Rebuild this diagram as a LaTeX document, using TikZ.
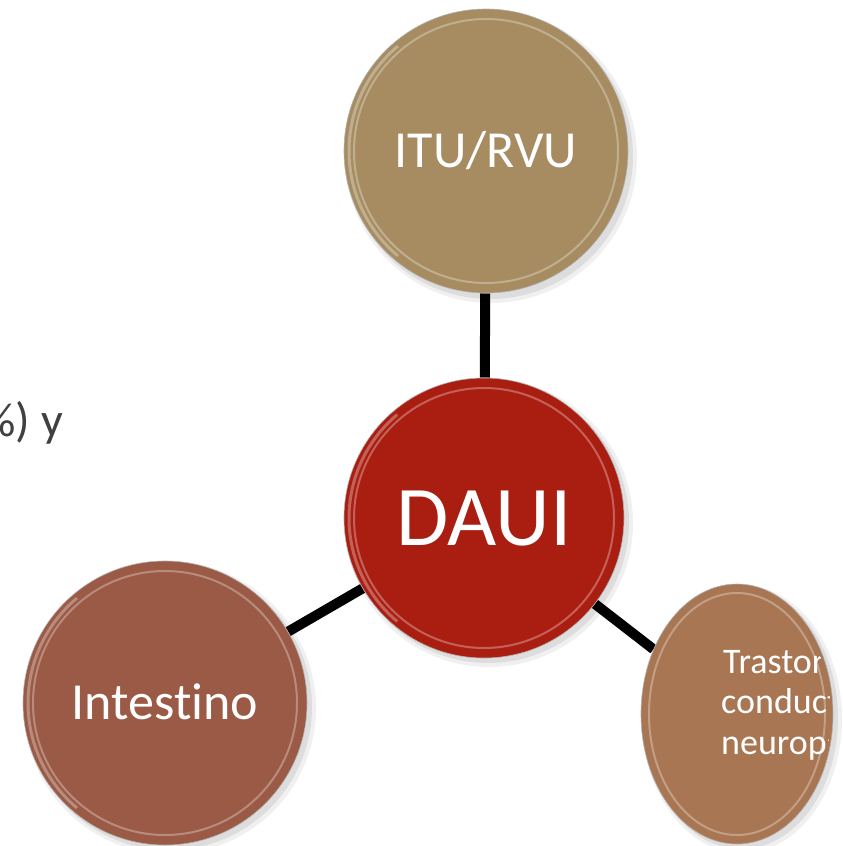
\documentclass[tikz,border=0pt]{standalone}
\usepackage{fontspec}
\setmainfont[Ligatures={NoCommon}]{Carlito}
\usetikzlibrary{shapes.geometric,backgrounds}
\definecolor{ctop}{RGB}{166,140,96}
\definecolor{cmid}{RGB}{170,30,18}
\definecolor{cleft}{RGB}{155,90,70}
\definecolor{cright}{RGB}{168,118,82}
\definecolor{txtgray}{RGB}{64,64,64}
\tikzset{
  bubble/.style={circle, minimum size=#1, inner sep=0pt, text=white,
    text depth=0pt, draw=black!30, line width=0.6pt},
  link/.style={line width=10pt, black},
  rline/.style={anchor=base west, inner sep=0pt, text=white, font=\fontsize{36}{41}\selectfont},
}
\begin{document}
\begin{tikzpicture}[x=1pt,y=-1pt]
\useasboundingbox (0,0) rectangle (843,846);
% shadows
\foreach \cx/\cy/\r in {486/152/142, 484/518/140, 165/703/142}{
  \fill[black, opacity=0.06] (\cx+5,\cy+5) circle (\r+4);
  \fill[black, opacity=0.08] (\cx+4,\cy+4) circle (\r+1);
}
\fill[black, opacity=0.06] (742,719) ellipse [x radius=100, y radius=134];
\fill[black, opacity=0.08] (741,718) ellipse [x radius=97, y radius=131];

\node[bubble=284pt, fill=ctop, text height=33.5pt, font=\fontsize{52}{60}\selectfont] (top) at (486,151) {ITU/RVU};
\node[bubble=280pt, fill=cmid, text height=55pt, font=\fontsize{85}{100}\selectfont] (mid) at (484,518) {DAUI};
\node[bubble=284pt, fill=cleft, text height=33.5pt, font=\fontsize{52}{60}\selectfont] (left) at (165,703) {Intestino};
\node[ellipse, minimum width=192pt, minimum height=260pt, inner sep=0pt, fill=cright, draw=black!30, line width=0.6pt] (right) at (737,714) {};

% bevel highlights
\draw[white, opacity=0.3, line width=2pt] (top) circle (132);
\draw[white, opacity=0.3, line width=2pt] (mid) circle (130);
\draw[white, opacity=0.3, line width=2pt] (left) circle (132);
\draw[white, opacity=0.3, line width=2pt] (right) ellipse [x radius=88, y radius=121];
\draw[white, opacity=0.3, line width=3pt] (top) ++(130:137) arc (130:230:137);
\draw[white, opacity=0.3, line width=3pt] (mid) ++(130:135) arc (130:230:135);
\draw[white, opacity=0.3, line width=3pt] (left) ++(130:137) arc (130:230:137);

% clipped text in right ellipse
\begin{scope}
  \clip (737,714) ellipse [x radius=93, y radius=127];
  \node[rline] (r1) at (723,673) {Trastorn};
  \node[rline] (r2) at (721,713) {conduct};
  \node[rline] (r3) at (721,754) {neurops};
\end{scope}

% connectors
\begin{pgfonlayer}{background}
  \draw[link] (mid) -- (top);
  \draw[link] (mid) -- (left);
  \draw[link] (mid) -- (right);
\end{pgfonlayer}

\node[anchor=base east, inner sep=0pt, text=txtgray, font=\fontsize{48}{56}\selectfont] (frag) at (63,436) {\%) y};
\end{tikzpicture}
\end{document}
